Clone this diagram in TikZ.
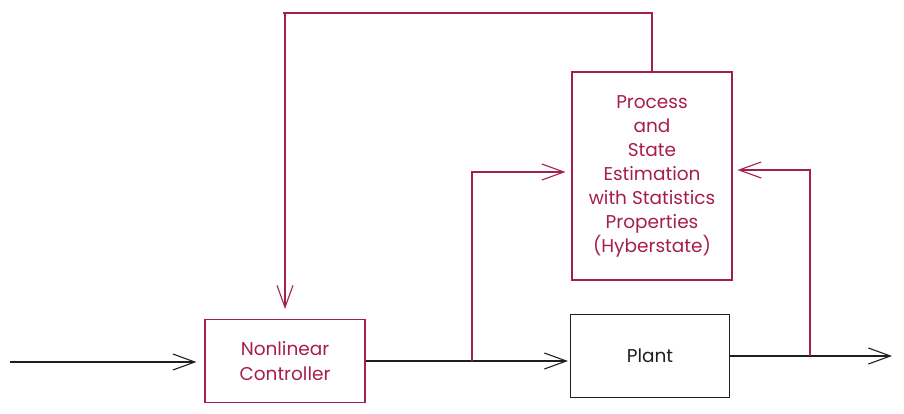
\documentclass[tikz,border=0pt]{standalone}
\usepackage{fontspec}
\setmainfont{Poppins}
\usetikzlibrary{arrows.meta}
\definecolor{crim}{HTML}{A61E4D}
\definecolor{ink}{HTML}{1E1E1E}
\begin{document}
\begin{tikzpicture}[x=1pt,y=-1pt,
  box/.style={draw, line width=1.1pt, rectangle, inner sep=0pt, align=center,
    font=\fontsize{18.5}{24}\selectfont},
  wire/.style={line width=1.1pt},
  arr/.style={wire, -{Straight Barb[length=22pt,width=16pt,line width=1.1pt]}}]
\useasboundingbox[fill=white] (0,0) rectangle (904,413);
\node[box, draw=crim, text=crim, minimum width=160pt, minimum height=83pt,
  font=\fontsize{18.5}{25}\selectfont] (ctrl) at (285,361) {Nonlinear\\Controller};
\node[box, draw=ink, text=ink, minimum width=159pt, minimum height=83pt] (plant) at (650,356) {Plant};
\node[box, draw=crim, text=crim, minimum width=160pt, minimum height=208pt] (est) at (652,176)
  {Process\\and\\State\\Estimation\\with Statistics\\Properties\\(Hyberstate)};
\coordinate (in) at (10,362);
\coordinate (out) at (892,356);
\coordinate (b1) at (472,361);
\coordinate (b2) at (810,356);
\coordinate (top) at (283,13);
% forward path
\draw[arr, draw=ink, shorten >=8pt] (in) -- (in -| ctrl.west);
\draw[arr, draw=ink, shorten >=2pt] (ctrl.east) -- (ctrl.east -| plant.west);
\draw[arr, draw=ink] (plant.east) -- (out);
% estimator inputs
\draw[arr, draw=crim, shorten >=6pt] (b1) |- ([yshift=4pt]est.west);
\draw[arr, draw=crim, shorten >=5pt] (b2) |- ([yshift=6pt]est.east);
% feedback
\draw[arr, draw=crim, shorten >=10pt] (est.north) |- (top) -| (ctrl.north);
\end{tikzpicture}
\end{document}
